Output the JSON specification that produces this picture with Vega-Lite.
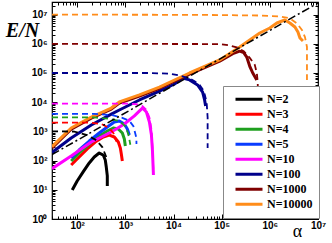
{
  "$schema": "https://vega.github.io/schema/vega-lite/v6.json",
  "width": 266,
  "height": 217,
  "padding": {"left": 52, "top": 2, "right": 14, "bottom": 24},
  "autosize": {"type": "none"},
  "config": {
    "font": "Liberation Sans",
    "view": {"stroke": "black", "strokeWidth": 1.2}
  },
  "datasets": {
    "solid": [
      {"N": "N=2", "i": 1, "a": 79, "e": 9.8},
      {"N": "N=2", "i": 2, "a": 100, "e": 20},
      {"N": "N=2", "i": 3, "a": 133, "e": 41},
      {"N": "N=2", "i": 4, "a": 178, "e": 83},
      {"N": "N=2", "i": 5, "a": 226, "e": 133},
      {"N": "N=2", "i": 6, "a": 287, "e": 182},
      {"N": "N=2", "i": 7, "a": 348, "e": 155},
      {"N": "N=2", "i": 8, "a": 383, "e": 105},
      {"N": "N=2", "i": 9, "a": 402, "e": 60},
      {"N": "N=2", "i": 10, "a": 422, "e": 30},
      {"N": "N=2", "i": 11, "a": 422, "e": 13.5},
      {"N": "N=3", "i": 1, "a": 75, "e": 71},
      {"N": "N=3", "i": 2, "a": 110, "e": 133},
      {"N": "N=3", "i": 3, "a": 162, "e": 250},
      {"N": "N=3", "i": 4, "a": 237, "e": 433},
      {"N": "N=3", "i": 5, "a": 348, "e": 643},
      {"N": "N=3", "i": 6, "a": 464, "e": 750},
      {"N": "N=3", "i": 7, "a": 590, "e": 643},
      {"N": "N=3", "i": 8, "a": 715, "e": 433},
      {"N": "N=3", "i": 9, "a": 787, "e": 270},
      {"N": "N=3", "i": 10, "a": 825, "e": 168},
      {"N": "N=3", "i": 11, "a": 866, "e": 97},
      {"N": "N=4", "i": 1, "a": 75, "e": 97},
      {"N": "N=4", "i": 2, "a": 110, "e": 182},
      {"N": "N=4", "i": 3, "a": 178, "e": 370},
      {"N": "N=4", "i": 4, "a": 287, "e": 695},
      {"N": "N=4", "i": 5, "a": 422, "e": 1030},
      {"N": "N=4", "i": 6, "a": 562, "e": 1310},
      {"N": "N=4", "i": 7, "a": 715, "e": 1210},
      {"N": "N=4", "i": 8, "a": 866, "e": 880},
      {"N": "N=4", "i": 9, "a": 953, "e": 550},
      {"N": "N=4", "i": 10, "a": 1000, "e": 316},
      {"N": "N=5", "i": 1, "a": 75, "e": 123},
      {"N": "N=5", "i": 2, "a": 110, "e": 231},
      {"N": "N=5", "i": 3, "a": 178, "e": 469},
      {"N": "N=5", "i": 4, "a": 287, "e": 880},
      {"N": "N=5", "i": 5, "a": 422, "e": 1420},
      {"N": "N=5", "i": 6, "a": 590, "e": 2100},
      {"N": "N=5", "i": 7, "a": 750, "e": 2270},
      {"N": "N=5", "i": 8, "a": 953, "e": 1790},
      {"N": "N=5", "i": 9, "a": 1100, "e": 1210},
      {"N": "N=5", "i": 10, "a": 1210, "e": 750},
      {"N": "N=10", "i": 1, "a": 30, "e": 53},
      {"N": "N=10", "i": 2, "a": 75, "e": 144},
      {"N": "N=10", "i": 3, "a": 196, "e": 433},
      {"N": "N=10", "i": 4, "a": 511, "e": 953},
      {"N": "N=10", "i": 5, "a": 953, "e": 1790},
      {"N": "N=10", "i": 6, "a": 1540, "e": 3400},
      {"N": "N=10", "i": 7, "a": 2260, "e": 6300},
      {"N": "N=10", "i": 8, "a": 2740, "e": 4600},
      {"N": "N=10", "i": 9, "a": 3160, "e": 2100},
      {"N": "N=10", "i": 10, "a": 3480, "e": 750},
      {"N": "N=10", "i": 11, "a": 3650, "e": 231},
      {"N": "N=10", "i": 12, "a": 3830, "e": 32},
      {"N": "N=100", "i": 1, "a": 30, "e": 190},
      {"N": "N=100", "i": 2, "a": 75, "e": 594},
      {"N": "N=100", "i": 3, "a": 196, "e": 1660},
      {"N": "N=100", "i": 4, "a": 511, "e": 3900},
      {"N": "N=100", "i": 5, "a": 750, "e": 5400},
      {"N": "N=100", "i": 6, "a": 1960, "e": 11900},
      {"N": "N=100", "i": 7, "a": 5110, "e": 24000},
      {"N": "N=100", "i": 8, "a": 10500, "e": 42000},
      {"N": "N=100", "i": 9, "a": 15400, "e": 67000},
      {"N": "N=100", "i": 10, "a": 21500, "e": 58000},
      {"N": "N=100", "i": 11, "a": 31600, "e": 39000},
      {"N": "N=100", "i": 12, "a": 40200, "e": 22000},
      {"N": "N=100", "i": 13, "a": 44200, "e": 11900},
      {"N": "N=100", "i": 14, "a": 46400, "e": 7400},
      {"N": "N=1000", "i": 1, "a": 30, "e": 270},
      {"N": "N=1000", "i": 2, "a": 75, "e": 1200},
      {"N": "N=1000", "i": 3, "a": 196, "e": 2850},
      {"N": "N=1000", "i": 4, "a": 511, "e": 5800},
      {"N": "N=1000", "i": 5, "a": 750, "e": 9300},
      {"N": "N=1000", "i": 6, "a": 1960, "e": 16200},
      {"N": "N=1000", "i": 7, "a": 5110, "e": 30000},
      {"N": "N=1000", "i": 8, "a": 21500, "e": 92000},
      {"N": "N=1000", "i": 9, "a": 90900, "e": 255000},
      {"N": "N=1000", "i": 10, "a": 170000, "e": 460000},
      {"N": "N=1000", "i": 11, "a": 237000, "e": 560000},
      {"N": "N=1000", "i": 12, "a": 287000, "e": 500000},
      {"N": "N=1000", "i": 13, "a": 332000, "e": 350000},
      {"N": "N=1000", "i": 14, "a": 383000, "e": 170000},
      {"N": "N=1000", "i": 15, "a": 442000, "e": 100000},
      {"N": "N=1000", "i": 16, "a": 487000, "e": 76000},
      {"N": "N=1000", "i": 17, "a": 536000, "e": 58000},
      {"N": "N=10000", "i": 1, "a": 30, "e": 300},
      {"N": "N=10000", "i": 2, "a": 75, "e": 1310},
      {"N": "N=10000", "i": 3, "a": 196, "e": 3100},
      {"N": "N=10000", "i": 4, "a": 511, "e": 6300},
      {"N": "N=10000", "i": 5, "a": 750, "e": 10200},
      {"N": "N=10000", "i": 6, "a": 1960, "e": 17700},
      {"N": "N=10000", "i": 7, "a": 5110, "e": 33000},
      {"N": "N=10000", "i": 8, "a": 21500, "e": 100000},
      {"N": "N=10000", "i": 9, "a": 90900, "e": 280000},
      {"N": "N=10000", "i": 10, "a": 237000, "e": 780000},
      {"N": "N=10000", "i": 11, "a": 383000, "e": 1350000},
      {"N": "N=10000", "i": 12, "a": 619000, "e": 2340000},
      {"N": "N=10000", "i": 13, "a": 1000000, "e": 3480000},
      {"N": "N=10000", "i": 14, "a": 1400000, "e": 5150000},
      {"N": "N=10000", "i": 15, "a": 2050000, "e": 6530000},
      {"N": "N=10000", "i": 16, "a": 2610000, "e": 5150000},
      {"N": "N=10000", "i": 17, "a": 3320000, "e": 3760000},
      {"N": "N=10000", "i": 18, "a": 3830000, "e": 2540000},
      {"N": "N=10000", "i": 19, "a": 4220000, "e": 1580000},
      {"N": "N=10000", "i": 20, "a": 4870000, "e": 1250000}
    ],
    "dashed": [
      {"N": "N=2", "i": 1, "a": 30, "e": 1000},
      {"N": "N=2", "i": 2, "a": 87, "e": 990},
      {"N": "N=2", "i": 3, "a": 162, "e": 750},
      {"N": "N=2", "i": 4, "a": 249, "e": 500},
      {"N": "N=2", "i": 5, "a": 332, "e": 290},
      {"N": "N=2", "i": 6, "a": 402, "e": 133},
      {"N": "N=3", "i": 1, "a": 30, "e": 2000},
      {"N": "N=3", "i": 2, "a": 178, "e": 2000},
      {"N": "N=3", "i": 3, "a": 316, "e": 1800},
      {"N": "N=3", "i": 4, "a": 464, "e": 1300},
      {"N": "N=3", "i": 5, "a": 590, "e": 800},
      {"N": "N=3", "i": 6, "a": 650, "e": 450},
      {"N": "N=4", "i": 1, "a": 30, "e": 3000},
      {"N": "N=4", "i": 2, "a": 226, "e": 3000},
      {"N": "N=4", "i": 3, "a": 464, "e": 2700},
      {"N": "N=4", "i": 4, "a": 750, "e": 2300},
      {"N": "N=4", "i": 5, "a": 1000, "e": 1500},
      {"N": "N=4", "i": 6, "a": 1155, "e": 800},
      {"N": "N=4", "i": 7, "a": 1270, "e": 350},
      {"N": "N=5", "i": 1, "a": 30, "e": 4000},
      {"N": "N=5", "i": 2, "a": 226, "e": 4000},
      {"N": "N=5", "i": 3, "a": 536, "e": 3600},
      {"N": "N=5", "i": 4, "a": 866, "e": 2900},
      {"N": "N=5", "i": 5, "a": 1210, "e": 2300},
      {"N": "N=5", "i": 6, "a": 1470, "e": 1500},
      {"N": "N=5", "i": 7, "a": 1695, "e": 600},
      {"N": "N=5", "i": 8, "a": 1700, "e": 370},
      {"N": "N=10", "i": 1, "a": 30, "e": 9000},
      {"N": "N=10", "i": 2, "a": 1210, "e": 9000},
      {"N": "N=10", "i": 3, "a": 1700, "e": 8500},
      {"N": "N=10", "i": 4, "a": 2260, "e": 7400},
      {"N": "N=10", "i": 5, "a": 2740, "e": 5400},
      {"N": "N=10", "i": 6, "a": 3160, "e": 3000},
      {"N": "N=10", "i": 7, "a": 3480, "e": 1200},
      {"N": "N=10", "i": 8, "a": 3650, "e": 300},
      {"N": "N=10", "i": 9, "a": 3830, "e": 40},
      {"N": "N=100", "i": 1, "a": 30, "e": 100000},
      {"N": "N=100", "i": 2, "a": 3160, "e": 100000},
      {"N": "N=100", "i": 3, "a": 8250, "e": 95000},
      {"N": "N=100", "i": 4, "a": 13300, "e": 82000},
      {"N": "N=100", "i": 5, "a": 21500, "e": 65000},
      {"N": "N=100", "i": 6, "a": 27400, "e": 52000},
      {"N": "N=100", "i": 7, "a": 34800, "e": 39000},
      {"N": "N=100", "i": 8, "a": 40200, "e": 28000},
      {"N": "N=100", "i": 9, "a": 44200, "e": 19000},
      {"N": "N=100", "i": 10, "a": 48700, "e": 10000},
      {"N": "N=100", "i": 11, "a": 51100, "e": 3000},
      {"N": "N=100", "i": 12, "a": 51100, "e": 270},
      {"N": "N=1000", "i": 1, "a": 30, "e": 1000000},
      {"N": "N=1000", "i": 2, "a": 90900, "e": 980000},
      {"N": "N=1000", "i": 3, "a": 146800, "e": 880000},
      {"N": "N=1000", "i": 4, "a": 205000, "e": 750000},
      {"N": "N=1000", "i": 5, "a": 287000, "e": 560000},
      {"N": "N=1000", "i": 6, "a": 383000, "e": 330000},
      {"N": "N=1000", "i": 7, "a": 487000, "e": 190000},
      {"N": "N=1000", "i": 8, "a": 536000, "e": 100000},
      {"N": "N=1000", "i": 9, "a": 560000, "e": 50000},
      {"N": "N=1000", "i": 10, "a": 570000, "e": 10000},
      {"N": "N=10000", "i": 1, "a": 30, "e": 10000000},
      {"N": "N=10000", "i": 2, "a": 34800, "e": 9800000},
      {"N": "N=10000", "i": 3, "a": 619000, "e": 9300000},
      {"N": "N=10000", "i": 4, "a": 1610000, "e": 8700000},
      {"N": "N=10000", "i": 5, "a": 2610000, "e": 7400000},
      {"N": "N=10000", "i": 6, "a": 3650000, "e": 5000000},
      {"N": "N=10000", "i": 7, "a": 4640000, "e": 3000000},
      {"N": "N=10000", "i": 8, "a": 5360000, "e": 1700000},
      {"N": "N=10000", "i": 9, "a": 5900000, "e": 780000},
      {"N": "N=10000", "i": 10, "a": 5900000, "e": 58000}
    ],
    "asym": [
      {"i": 1, "a": 30, "e": 160},
      {"i": 2, "a": 10000000, "e": 25000000}
    ]
  },
  "layer": [
    {
      "data": {"name": "solid"},
      "mark": {"type": "line", "strokeWidth": 3, "strokeJoin": "round", "clip": true},
      "encoding": {
        "x": {
          "field": "a", "type": "quantitative",
          "scale": {"type": "log", "domain": [30, 10000000], "nice": false},
          "axis": {
            "orient": "bottom",
            "values": [30,40,50,60,70,80,90,100,200,300,400,500,600,700,800,900,1000,2000,3000,4000,5000,6000,7000,8000,9000,10000,20000,30000,40000,50000,60000,70000,80000,90000,100000,200000,300000,400000,500000,600000,700000,800000,900000,1000000,2000000,3000000,4000000,5000000,6000000,7000000,8000000,9000000,10000000],
            "labelExpr": "datum.value == pow(10, round(log(datum.value)/LN10)) ? '10' + ['⁰','¹','²','³','⁴','⁵','⁶','⁷'][round(log(datum.value)/LN10)] : ''",
            "tickSize": {"condition": {"test": "datum.value == pow(10, round(log(datum.value)/LN10))", "value": -5}, "value": -3},
            "tickColor": "black",
            "domain": false, "grid": false,
            "labelFlush": false, "labelOverlap": false,
            "labelPadding": 6,
            "labelFont": "Liberation Sans", "labelFontWeight": "bold", "labelFontSize": 10, "labelColor": "black",
            "title": "α", "titleX": 245, "titleY": 17,
            "titleFont": "Liberation Serif", "titleFontSize": 18, "titleFontWeight": "normal",
            "titleBaseline": "alphabetic", "titleAlign": "center", "titleColor": "black"
          }
        },
        "y": {
          "field": "e", "type": "quantitative",
          "scale": {"type": "log", "domain": [1, 27000000], "nice": false},
          "axis": {
            "orient": "left",
            "values": [1,2,3,4,5,6,7,8,9,10,20,30,40,50,60,70,80,90,100,200,300,400,500,600,700,800,900,1000,2000,3000,4000,5000,6000,7000,8000,9000,10000,20000,30000,40000,50000,60000,70000,80000,90000,100000,200000,300000,400000,500000,600000,700000,800000,900000,1000000,2000000,3000000,4000000,5000000,6000000,7000000,8000000,9000000,10000000,20000000],
            "labelExpr": "datum.value == pow(10, round(log(datum.value)/LN10)) ? '10' + ['⁰','¹','²','³','⁴','⁵','⁶','⁷'][round(log(datum.value)/LN10)] : ''",
            "tickSize": {"condition": {"test": "datum.value == pow(10, round(log(datum.value)/LN10))", "value": -5}, "value": -3},
            "tickColor": "black",
            "domain": false, "grid": false,
            "labelFlush": false, "labelOverlap": false,
            "labelPadding": 10,
            "labelFont": "Liberation Sans", "labelFontWeight": "bold", "labelFontSize": 10, "labelColor": "black",
            "title": "E/N", "titleAngle": 0, "titleX": -30, "titleY": 34,
            "titleFont": "Liberation Serif", "titleFontSize": 20, "titleFontWeight": "bold", "titleFontStyle": "italic",
            "titleBaseline": "alphabetic", "titleAlign": "center", "titleColor": "black"
          }
        },
        "color": {
          "field": "N", "type": "nominal",
          "scale": {
            "domain": ["N=2","N=3","N=4","N=5","N=10","N=100","N=1000","N=10000"],
            "range": ["#000000","#ff0000","#1f9f1f","#0a3cff","#ff00ff","#00008b","#7f0000","#ff8c1a"]
          },
          "legend": {
            "orient": "none", "legendX": 171, "legendY": 84,
            "title": null,
            "symbolType": "stroke", "symbolSize": 729, "symbolStrokeWidth": 3,
            "symbolOffset": 5,
            "labelFont": "Liberation Serif", "labelFontWeight": "bold", "labelFontSize": 12, "labelColor": "black",
            "labelOffset": 3,
            "strokeColor": "#888888", "fillColor": "white", "padding": 6,
            "clipHeight": 14.5,
            "rowPadding": 0
          }
        },
        "order": {"field": "i", "type": "quantitative"}
      }
    },
    {
      "data": {"name": "dashed"},
      "mark": {"type": "line", "strokeWidth": 1.8, "strokeDash": [6, 4], "clip": true},
      "encoding": {
        "x": {
          "field": "a", "type": "quantitative",
          "axis": {
            "orient": "top",
            "values": [30,40,50,60,70,80,90,100,200,300,400,500,600,700,800,900,1000,2000,3000,4000,5000,6000,7000,8000,9000,10000,20000,30000,40000,50000,60000,70000,80000,90000,100000,200000,300000,400000,500000,600000,700000,800000,900000,1000000,2000000,3000000,4000000,5000000,6000000,7000000,8000000,9000000,10000000],
            "labels": false,
            "tickSize": {"condition": {"test": "datum.value == pow(10, round(log(datum.value)/LN10))", "value": -5}, "value": -3},
            "tickColor": "black", "domain": false, "grid": false, "title": null
          }
        },
        "y": {
          "field": "e", "type": "quantitative",
          "axis": {
            "orient": "right",
            "values": [1,2,3,4,5,6,7,8,9,10,20,30,40,50,60,70,80,90,100,200,300,400,500,600,700,800,900,1000,2000,3000,4000,5000,6000,7000,8000,9000,10000,20000,30000,40000,50000,60000,70000,80000,90000,100000,200000,300000,400000,500000,600000,700000,800000,900000,1000000,2000000,3000000,4000000,5000000,6000000,7000000,8000000,9000000,10000000,20000000],
            "labels": false,
            "tickSize": {"condition": {"test": "datum.value == pow(10, round(log(datum.value)/LN10))", "value": -5}, "value": -3},
            "tickColor": "black", "domain": false, "grid": false, "title": null
          }
        },
        "color": {"field": "N", "type": "nominal", "legend": null},
        "order": {"field": "i", "type": "quantitative"}
      }
    },
    {
      "data": {"name": "asym"},
      "mark": {"type": "line", "color": "black", "strokeWidth": 1.5, "strokeDash": [8, 3, 2, 3], "clip": true},
      "encoding": {
        "x": {"field": "a", "type": "quantitative", "axis": null},
        "y": {"field": "e", "type": "quantitative", "axis": null},
        "order": {"field": "i", "type": "quantitative"}
      }
    }
  ],
  "resolve": {"axis": {"x": "independent", "y": "independent"}}
}
